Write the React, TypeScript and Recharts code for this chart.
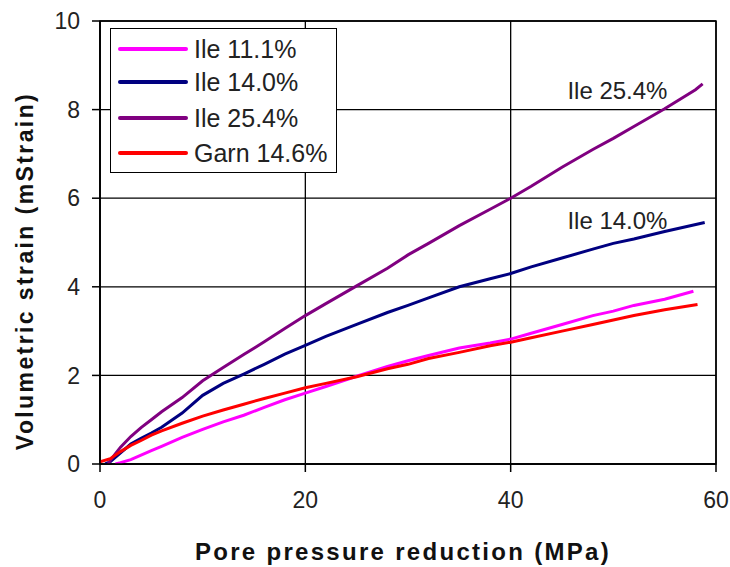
import React from 'react';
import {
  LineChart, Line, XAxis, YAxis, CartesianGrid, Legend, ReferenceDot, ReferenceArea,
} from 'recharts';

// Ile 11.1%
const xIle111 = [1.5, 2, 3, 4, 5, 6, 8, 10, 12, 14, 16, 18, 20, 22, 25, 28, 30, 32, 35, 38, 40, 42, 45, 48, 50, 52, 55, 57.8];
const yIle111 = [0, 0.03, 0.1, 0.2, 0.3, 0.4, 0.6, 0.78, 0.95, 1.1, 1.28, 1.45, 1.6, 1.75, 1.98, 2.2, 2.33, 2.45, 2.62, 2.73, 2.82, 2.95, 3.15, 3.35, 3.45, 3.58, 3.72, 3.9];
// Ile 14.0%
const xIle140 = [0.5, 1, 2, 3, 4, 5, 6, 8, 10, 12, 14, 16, 18, 20, 22, 25, 28, 30, 32, 35, 38, 40, 42, 45, 48, 50, 52, 55, 58.9];
const yIle140 = [0, 0.05, 0.25, 0.45, 0.58, 0.7, 0.83, 1.15, 1.55, 1.82, 2.03, 2.25, 2.48, 2.68, 2.88, 3.15, 3.42, 3.58, 3.75, 4.0, 4.18, 4.3, 4.45, 4.65, 4.85, 4.98, 5.08, 5.25, 5.45];
// Ile 25.4%
const xIle254 = [0.8, 1, 2, 3, 4, 5, 6, 8, 10, 12, 14, 16, 18, 20, 22, 25, 28, 30, 32, 35, 38, 40, 42, 45, 48, 50, 52, 55, 58, 58.7];
const yIle254 = [0, 0.08, 0.38, 0.62, 0.82, 1.0, 1.18, 1.5, 1.88, 2.18, 2.47, 2.76, 3.06, 3.35, 3.62, 4.02, 4.42, 4.72, 4.98, 5.38, 5.75, 6.0, 6.27, 6.7, 7.1, 7.35, 7.62, 8.02, 8.45, 8.58];
// Garn 14.6%
const xGarn146 = [0, 1, 2, 3, 4, 5, 6, 8, 10, 12, 14, 16, 18, 20, 22, 25, 28, 30, 32, 35, 38, 40, 42, 45, 48, 50, 52, 55, 58.2];
const yGarn146 = [0.05, 0.12, 0.28, 0.42, 0.53, 0.65, 0.75, 0.92, 1.08, 1.22, 1.35, 1.48, 1.6, 1.72, 1.82, 1.97, 2.15, 2.25, 2.38, 2.52, 2.67, 2.75, 2.85, 3.0, 3.15, 3.25, 3.35, 3.48, 3.6];

const xTicks = [0, 20, 40, 60];
const yTicks = [0, 2, 4, 6, 8, 10];

const zip = (xs: number[], ys: number[]) => xs.map((x, i) => ({ x, y: ys[i] }));

const series = [
  { name: 'Ile 11.1%', color: '#FF00FF', data: zip(xIle111, yIle111) },
  { name: 'Ile 14.0%', color: '#000080', data: zip(xIle140, yIle140) },
  { name: 'Ile 25.4%', color: '#800080', data: zip(xIle254, yIle254) },
  { name: 'Garn 14.6%', color: '#FF0000', data: zip(xGarn146, yGarn146) },
];

const FONT = '"Liberation Sans", Arial, sans-serif';

const LegendBox = () => {
  const rows = [20, 53, 89, 124];
  return (
    <div style={{ width: 225, height: 143, border: '1.5px solid #000', background: '#fff', position: 'relative', fontFamily: FONT }}>
      {series.map((s, i) => (
        <div key={s.name} style={{ position: 'absolute', left: 7, top: rows[i] - 14, height: 28, display: 'flex', alignItems: 'center' }}>
          <div style={{ width: 70, height: 4, background: s.color, borderRadius: 2 }} />
          <span style={{ marginLeft: 6, fontSize: 25, color: '#222', whiteSpace: 'nowrap' }}>{s.name}</span>
        </div>
      ))}
    </div>
  );
};

export default function App() {
  return (
    <div style={{ position: 'absolute', left: 0, top: 0, width: 730, height: 567, background: '#fff' }}>
      <LineChart width={730} height={567} margin={{ top: 21, right: 14, bottom: 43, left: 20 }}>
        <CartesianGrid stroke="#000" strokeWidth={1.3} />
        <XAxis
          dataKey="x"
          type="number"
          domain={[0, 60]}
          ticks={xTicks}
          height={60}
          allowDataOverflow
          stroke="#000"
          strokeWidth={1.5}
          tickSize={8}
          tickMargin={20}
          tick={{ fill: '#222', fontSize: 23, fontFamily: FONT }}
          label={{
            content: () => (
              <text x={403} y={560} textAnchor="middle" fontFamily={FONT} fontWeight="bold" fontSize={24} letterSpacing={2.3} fill="#111">
                Pore pressure reduction (MPa)
              </text>
            ),
          }}
        />
        <YAxis
          type="number"
          domain={[0, 10]}
          ticks={yTicks}
          width={80}
          allowDataOverflow
          stroke="#000"
          strokeWidth={1.5}
          tickSize={8}
          tickMargin={12}
          tick={{ fill: '#222', fontSize: 23, fontFamily: FONT }}
          label={{
            content: () => (
              <text x={33} y={271} transform="rotate(-90 33 271)" textAnchor="middle" fontFamily={FONT} fontWeight="bold" fontSize={23} letterSpacing={2.4} fill="#111">
                Volumetric strain (mStrain)
              </text>
            ),
          }}
        />
        <ReferenceArea x1={0} x2={60} y1={0} y2={10} fill="none" stroke="#000" strokeWidth={1.5} ifOverflow="visible" />
        {series.map((s) => (
          <Line
            key={s.name}
            data={s.data}
            dataKey="y"
            name={s.name}
            stroke={s.color}
            strokeWidth={3}
            dot={false}
            isAnimationActive={false}
            type="linear"
          />
        ))}
        <ReferenceDot x={50.4} y={8.44} r={0} fill="none" stroke="none"
          label={{ value: 'Ile 25.4%', position: 'center', fontSize: 24, fontFamily: FONT, fill: '#222' }} />
        <ReferenceDot x={50.4} y={5.5} r={0} fill="none" stroke="none"
          label={{ value: 'Ile 14.0%', position: 'center', fontSize: 24, fontFamily: FONT, fill: '#222' }} />
        <Legend
          layout="horizontal"
          verticalAlign="middle"
          align="center"
          content={<LegendBox />}
          wrapperStyle={{ position: 'absolute', left: 110, top: 28, width: 228, height: 146 }}
        />
      </LineChart>
    </div>
  );
}
